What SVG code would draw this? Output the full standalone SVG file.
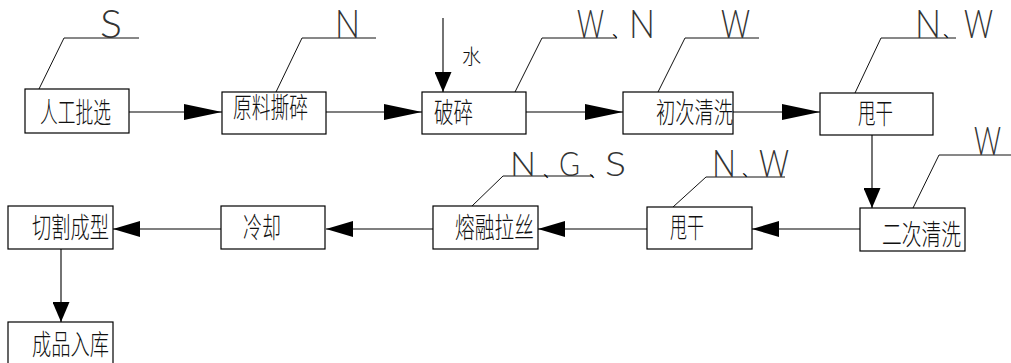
<svg xmlns="http://www.w3.org/2000/svg" width="1011" height="363" viewBox="0 0 1011 363">
<style>
.box{fill:#fff;stroke:#000;stroke-width:1.2}
.ln{fill:none;stroke:#000;stroke-width:1.1}
.ld{fill:none;stroke:#111;stroke-width:1}
.cn{font-family:"Noto Sans CJK SC","Noto Sans CJK JP",sans-serif;font-size:28px;font-weight:300;fill:#111}
.lt{font-family:Lato,"DejaVu Sans",sans-serif;font-weight:300;font-size:39px;fill:#333}
.sp{font-family:"Noto Sans CJK SC",sans-serif;font-size:15px;font-weight:400;fill:#000}
</style>
<defs>
<marker id="aL" viewBox="0 0 38 16" refX="38" refY="8" markerWidth="38" markerHeight="16" markerUnits="userSpaceOnUse" orient="auto"><path d="M0,0 L38,8 L0,16 Z" fill="#000"/></marker>
<marker id="aS" viewBox="0 0 27 16" refX="27" refY="8" markerWidth="27" markerHeight="16" markerUnits="userSpaceOnUse" orient="auto"><path d="M0,0 L27,8 L0,16 Z" fill="#000"/></marker>
<marker id="aV" viewBox="0 0 20 17" refX="20" refY="8.5" markerWidth="20" markerHeight="17" markerUnits="userSpaceOnUse" orient="auto"><path d="M0,0 L20,8.5 L0,17 Z" fill="#000"/></marker>
</defs>
<rect width="1011" height="363" fill="#fff"/>
<g id="connectors">
<line class="ln" x1="129" y1="112" x2="222" y2="112" marker-end="url(#aL)"/>
<line class="ln" x1="326" y1="112" x2="422" y2="112" marker-end="url(#aL)"/>
<line class="ln" x1="526" y1="112" x2="623" y2="112" marker-end="url(#aL)"/>
<line class="ln" x1="733" y1="112" x2="820" y2="112" marker-end="url(#aL)"/>
<line class="ln" x1="443" y1="18" x2="443" y2="92" marker-end="url(#aV)"/>
<line class="ln" x1="872" y1="135" x2="872" y2="208" marker-end="url(#aV)"/>
<line class="ln" x1="860" y1="229" x2="752" y2="229" marker-end="url(#aS)"/>
<line class="ln" x1="647" y1="229" x2="538" y2="229" marker-end="url(#aS)"/>
<line class="ln" x1="433" y1="229" x2="326" y2="229" marker-end="url(#aS)"/>
<line class="ln" x1="221" y1="229" x2="113" y2="229" marker-end="url(#aS)"/>
<line class="ln" x1="61" y1="249" x2="61" y2="322" marker-end="url(#aV)"/>
</g>
<g id="leaders">
<polyline class="ld" points="38,91 64,38 139,38"/>
<polyline class="ld" points="276,92 302,38 376,38"/>
<polyline class="ld" points="515,92 542,38 617,38"/>
<polyline class="ld" points="658,92 685,38 759,38"/>
<polyline class="ld" points="855,93 881,38 956,38"/>
<polyline class="ld" points="913,208 939,155 1011,155"/>
<polyline class="ld" points="673,207 706,177 785,177"/>
<polyline class="ld" points="472,206 503,176 593,176"/>
</g>
<g id="labels">
<text class="lt" x="100" y="38" textLength="22" lengthAdjust="spacingAndGlyphs">S</text>
<text class="lt" x="335" y="38" textLength="25" lengthAdjust="spacingAndGlyphs">N</text>
<text class="lt" y="38"><tspan x="577" textLength="27" lengthAdjust="spacingAndGlyphs">W</tspan><tspan class="sp" x="612" y="37">、</tspan><tspan x="629" y="38" textLength="26" lengthAdjust="spacingAndGlyphs">N</tspan></text>
<text class="lt" x="721" y="38" textLength="29" lengthAdjust="spacingAndGlyphs">W</text>
<text class="lt" y="38"><tspan x="915" textLength="26" lengthAdjust="spacingAndGlyphs">N</tspan><tspan class="sp" x="943" y="37">、</tspan><tspan x="964" y="38" textLength="29" lengthAdjust="spacingAndGlyphs">W</tspan></text>
<text class="lt" x="974" y="155" textLength="27" lengthAdjust="spacingAndGlyphs">W</text>
<text class="lt" y="177" style="font-size:37px"><tspan x="712" textLength="24" lengthAdjust="spacingAndGlyphs">N</tspan><tspan class="sp" x="742" y="176">、</tspan><tspan x="759" y="177" textLength="30" lengthAdjust="spacingAndGlyphs">W</tspan></text>
<text class="lt" y="176" style="font-size:33px"><tspan x="510" textLength="26" lengthAdjust="spacingAndGlyphs">N</tspan><tspan class="sp" x="543" y="177">、</tspan><tspan x="559" y="176" textLength="21" lengthAdjust="spacingAndGlyphs">G</tspan><tspan class="sp" x="589" y="177">、</tspan><tspan x="605" y="176" textLength="21" lengthAdjust="spacingAndGlyphs">S</tspan></text>
<text class="cn" x="462" y="64" style="font-size:20px" textLength="19" lengthAdjust="spacingAndGlyphs">水</text>
</g>
<g id="n1"><rect class="box" x="25" y="89" width="104" height="44"/><text class="cn" x="40" y="123" textLength="71" lengthAdjust="spacingAndGlyphs">人工批选</text></g>
<g id="n2"><rect class="box" x="222" y="92" width="104" height="42"/><text class="cn" x="233" y="118" textLength="75" lengthAdjust="spacingAndGlyphs">原料撕碎</text></g>
<g id="n3"><rect class="box" x="422" y="92" width="104" height="42"/><text class="cn" x="434" y="123" textLength="39" lengthAdjust="spacingAndGlyphs">破碎</text></g>
<g id="n4"><rect class="box" x="623" y="92" width="110" height="42"/><text class="cn" x="656" y="123" textLength="77" lengthAdjust="spacingAndGlyphs">初次清洗</text></g>
<g id="n5"><rect class="box" x="820" y="93" width="113" height="42"/><text class="cn" x="858" y="124" textLength="35" lengthAdjust="spacingAndGlyphs">甩干</text></g>
<g id="n6"><rect class="box" x="860" y="208" width="105" height="43"/><text class="cn" x="882" y="245" textLength="79" lengthAdjust="spacingAndGlyphs">二次清洗</text></g>
<g id="n7"><rect class="box" x="647" y="207" width="105" height="42"/><text class="cn" x="670" y="238" textLength="34" lengthAdjust="spacingAndGlyphs">甩干</text></g>
<g id="n8"><rect class="box" x="433" y="206" width="105" height="43"/><text class="cn" x="455" y="238" textLength="79" lengthAdjust="spacingAndGlyphs">熔融拉丝</text></g>
<g id="n9"><rect class="box" x="221" y="206" width="104" height="43"/><text class="cn" x="243" y="238" textLength="38" lengthAdjust="spacingAndGlyphs">冷却</text></g>
<g id="n10"><rect class="box" x="8" y="206" width="105" height="43"/><text class="cn" x="32" y="238" textLength="77" lengthAdjust="spacingAndGlyphs">切割成型</text></g>
<g id="n11"><rect class="box" x="8" y="322" width="105" height="50"/><text class="cn" x="32" y="355" textLength="77" lengthAdjust="spacingAndGlyphs">成品入库</text></g>
</svg>
